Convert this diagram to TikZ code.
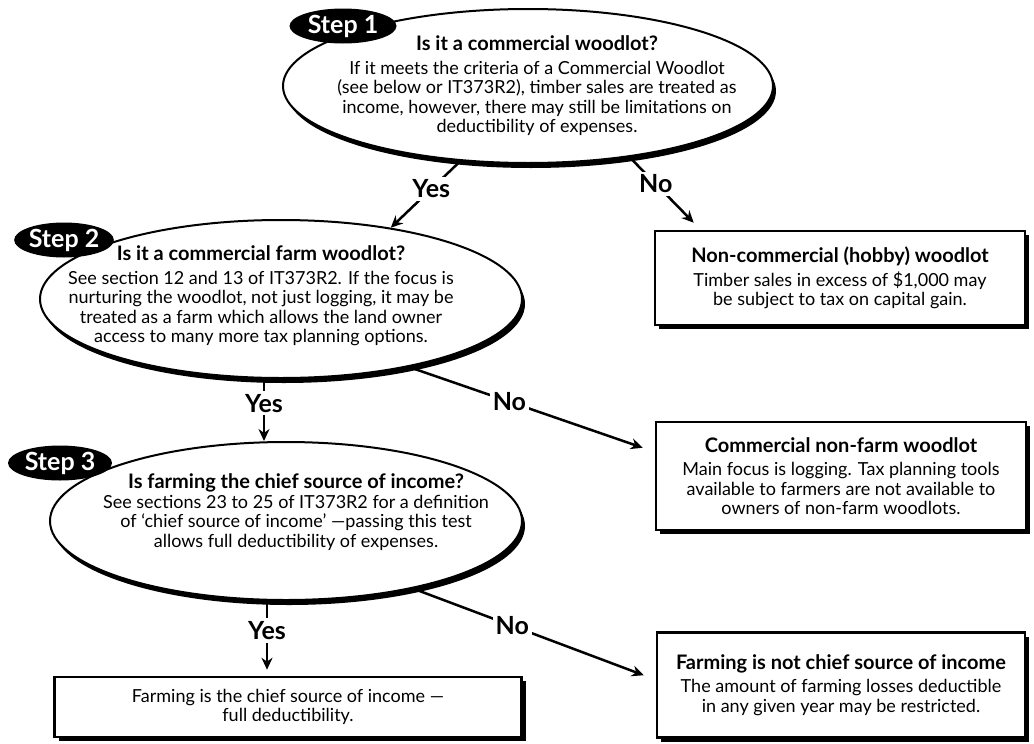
\documentclass[tikz,border=0pt]{standalone}
\usepackage{fontspec}
\setmainfont{Lato}
\usetikzlibrary{shapes.geometric,shadows,arrows.meta}

\begin{document}
\begin{tikzpicture}[x=1pt, y=-1pt,
    font=\fontsize{18}{19.5}\selectfont,
    question/.style={ellipse, draw, line width=2pt, fill=white, inner sep=0pt,
      drop shadow={shadow xshift=3pt, shadow yshift=-5pt, opacity=1, fill=black}},
    asktext/.style={align=center, inner sep=0pt},
    steplabel/.style={ellipse, fill=black, text=white, inner sep=0pt,
      minimum width=107pt, minimum height=35pt, font=\fontsize{25}{28}\selectfont\bfseries},
    outcome/.style={rectangle, draw, line width=2.5pt, fill=white, align=center, inner sep=0pt,
      drop shadow={shadow xshift=4pt, shadow yshift=-4pt, opacity=1, fill=black}},
    answer/.style={fill=white, inner sep=3pt, font=\fontsize{25}{28}\selectfont\bfseries},
    flow/.style={line width=2.5pt, -{Stealth[length=12pt, width=11pt]}}]
  \useasboundingbox (0,0) rectangle (1034,744);

  % the three questions
  \node (q1) [question, minimum width=490pt, minimum height=154pt] at (528,86) {};
  \node (q2) [question, minimum width=482pt, minimum height=158pt] at (281,299) {};
  \node (q3) [question, minimum width=472pt, minimum height=158pt] at (286,521) {};

  \node (s1) [steplabel] at (343,26) {Step 1};
  \node (s2) [steplabel, minimum width=98pt] at (64,240) {Step 2};
  \node (s3) [steplabel, minimum width=104pt] at (60,463) {Step 3};

  \node (t1) [asktext] at (537,86)
    {\textbf{\fontsize{20}{20}\selectfont Is it a commercial woodlot?}\\[4pt]
     If it meets the criteria of a Commercial Woodlot\\
     (see below or IT373R2), timber sales are treated as\\
     income, however, there may still be limitations on\\
     deductibility of expenses.};
  \node (t2) [asktext] at (261,296)
    {\textbf{\fontsize{20}{20}\selectfont Is it a commercial farm woodlot?}\\[4pt]
     See section 12 and 13 of IT373R2. If the focus is\\
     nurturing the woodlot, not just logging, it may be\\
     treated as a farm which allows the land owner\\
     access to many more tax planning options.};
  \node (t3) [asktext] at (296,512)
    {\textbf{\fontsize{20}{20}\selectfont Is farming the chief source of income?}\\
     See sections 23 to 25 of IT373R2 for a definition\\
     of ‘chief source of income’ —passing this test\\
     allows full deductibility of expenses.};

  % outcomes
  \node (b1) [outcome, minimum width=370pt, minimum height=94pt] at (840,278)
    {\textbf{\fontsize{20}{20}\selectfont Non-commercial (hobby) woodlot}\\[4pt]
     Timber sales in excess of \$1,000 may\\
     be subject to tax on capital gain.};
  \node (b2) [outcome, minimum width=370pt, minimum height=108pt] at (841,476)
    {\textbf{\fontsize{20}{20}\selectfont Commercial non-farm woodlot}\\[4pt]
     Main focus is logging. Tax planning tools\\
     available to farmers are not available to\\
     owners of non-farm woodlots.};
  \node (b3) [outcome, minimum width=368pt, minimum height=105pt] at (841,685)
    {\textbf{\fontsize{20}{20}\selectfont Farming is not chief source of income}\\[4pt]
     The amount of farming losses deductible\\
     in any given year may be restricted.};
  \node (b4) [outcome, minimum width=467pt, minimum height=60pt] at (288,707)
    {Farming is the chief source of income —\\
     full deductibility.};

  % yes / no
  \draw[flow] (q1.228) -- node[answer, pos=0.42] {Yes} (q2.33);
  \draw[flow] (q1.325) -- node[answer, pos=0.41] {No} ([xshift=40pt, yshift=7pt]b1.north west);
  \draw[flow] ([xshift=-17pt]q2.south) -- node[answer, pos=0.39] {Yes} ([xshift=-22pt]q3.north);
  \draw[flow] (q2.332) -- node[answer, pos=0.43] {No} ([xshift=-12pt, yshift=-27pt]b2.north west);
  \draw[flow] ([xshift=-19pt]q3.south) -- node[answer, pos=0.43] {Yes} ([xshift=-21pt, yshift=6pt]b4.north);
  \draw[flow] (q3.332) -- node[answer, pos=0.43] {No} ([xshift=-12pt, yshift=-44pt]b3.north west);
\end{tikzpicture}
\end{document}
